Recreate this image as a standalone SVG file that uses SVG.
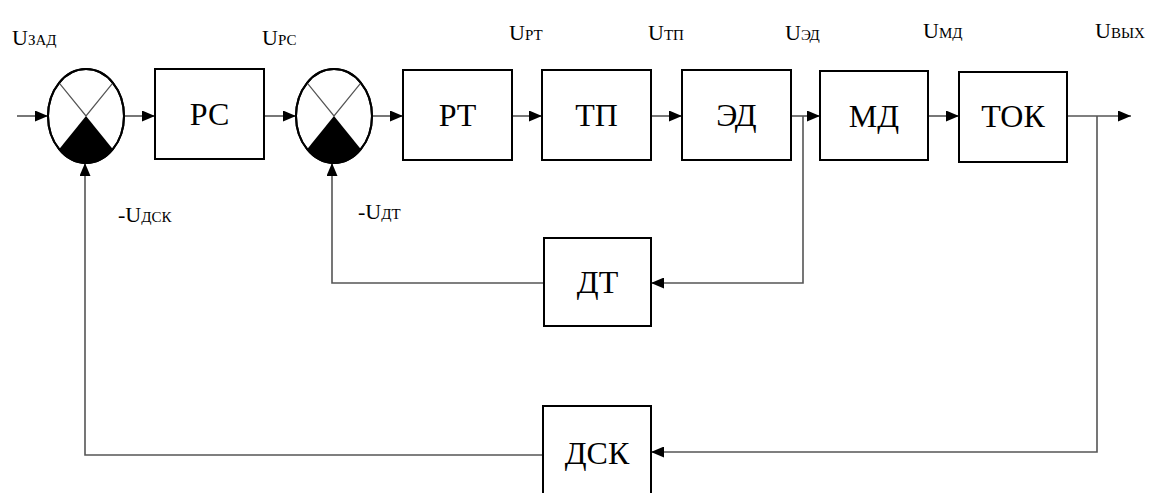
<svg xmlns="http://www.w3.org/2000/svg" width="1153" height="493" viewBox="0 0 1153 493">
<defs>
<marker id="arr" markerUnits="userSpaceOnUse" markerWidth="13" markerHeight="11" refX="13" refY="5.5" orient="auto">
<path d="M0,0 L13,5.5 L0,11 Z" fill="#000"/>
</marker>
<style>
.box{fill:#fff;stroke:#000;stroke-width:2}
.sum{fill:#fff;stroke:#000;stroke-width:2}
.cross{stroke:#555;stroke-width:1.2;fill:none}
.blk{fill:#000;stroke:none}
.lbl{font-family:"Liberation Serif","DejaVu Serif",serif;font-size:32px;fill:#000;text-anchor:middle}
.sig{font-family:"Liberation Serif","DejaVu Serif",serif;font-size:22px;fill:#000}
.sub{font-size:15px}
.ln{stroke:#555;stroke-width:1.6;fill:none}
.ar{marker-end:url(#arr)}
</style>
</defs>
<g id="connectors">
<line class="ln ar" x1="17" y1="116" x2="48" y2="116"/>
<line class="ln ar" x1="124" y1="116" x2="155" y2="116"/>
<line class="ln ar" x1="264" y1="116" x2="296" y2="116"/>
<line class="ln ar" x1="372" y1="116" x2="403" y2="116"/>
<line class="ln ar" x1="512" y1="116" x2="542" y2="116"/>
<line class="ln ar" x1="651" y1="116" x2="682" y2="116"/>
<line class="ln ar" x1="791" y1="116" x2="820" y2="116"/>
<line class="ln ar" x1="928" y1="116" x2="959" y2="116"/>
<line class="ln ar" x1="1067" y1="116" x2="1131" y2="116"/>
<polyline class="ln ar" points="803,116 803,283 651,283"/>
<polyline class="ln ar" points="544,283 332,283 332,163"/>
<polyline class="ln ar" points="1097,116 1097,452 651,452"/>
<polyline class="ln ar" points="543,455 85,455 85,163"/>
</g>
<g id="sum1">
<ellipse class="sum" cx="86" cy="116" rx="38" ry="47"/>
<path class="blk" d="M86,116 L59.1,149.2 A38,47 0 0 0 112.9,149.2 Z"/>
<path class="cross" d="M59.1,82.8 L86,116 L112.9,82.8"/>
<ellipse cx="86" cy="116" rx="38" ry="47" fill="none" stroke="#000" stroke-width="2"/>
</g>
<g id="sum2">
<ellipse class="sum" cx="334" cy="116" rx="38" ry="47"/>
<path class="blk" d="M334,116 L307.1,149.2 A38,47 0 0 0 360.9,149.2 Z"/>
<path class="cross" d="M307.1,82.8 L334,116 L360.9,82.8"/>
<ellipse cx="334" cy="116" rx="38" ry="47" fill="none" stroke="#000" stroke-width="2"/>
</g>
<g id="RS"><rect class="box" x="155" y="69" width="109" height="90"/><text class="lbl" x="209.5" y="125">РС</text></g>
<g id="RT"><rect class="box" x="403" y="70" width="109" height="90"/><text class="lbl" x="457.5" y="126">РТ</text></g>
<g id="TP"><rect class="box" x="542" y="70" width="109" height="90"/><text class="lbl" x="596.5" y="126">ТП</text></g>
<g id="ED"><rect class="box" x="682" y="70" width="109" height="90"/><text class="lbl" x="736.5" y="126">ЭД</text></g>
<g id="MD"><rect class="box" x="820" y="71" width="108" height="89"/><text class="lbl" x="874" y="127">МД</text></g>
<g id="TOK"><rect class="box" x="959" y="72" width="108" height="90"/><text class="lbl" x="1013" y="127">ТОК</text></g>
<g id="DT"><rect class="box" x="544" y="238" width="107" height="88"/><text class="lbl" x="597.5" y="293">ДТ</text></g>
<g id="DSK"><rect class="box" x="543" y="406" width="108" height="100"/><text class="lbl" x="597" y="464" font-size="30">ДСК</text></g>
<g id="signals">
<text class="sig" x="12" y="45">U<tspan class="sub">ЗАД</tspan></text>
<text class="sig" x="262" y="45">U<tspan class="sub">РС</tspan></text>
<text class="sig" x="509" y="40">U<tspan class="sub">РТ</tspan></text>
<text class="sig" x="648" y="40">U<tspan class="sub">ТП</tspan></text>
<text class="sig" x="785" y="40">U<tspan class="sub">ЭД</tspan></text>
<text class="sig" x="923" y="38">U<tspan class="sub">МД</tspan></text>
<text class="sig" x="1095" y="38">U<tspan class="sub">ВЫХ</tspan></text>
<text class="sig" x="118" y="222">-U<tspan class="sub">ДСК</tspan></text>
<text class="sig" x="358" y="219">-U<tspan class="sub">ДТ</tspan></text>
</g>
</svg>
